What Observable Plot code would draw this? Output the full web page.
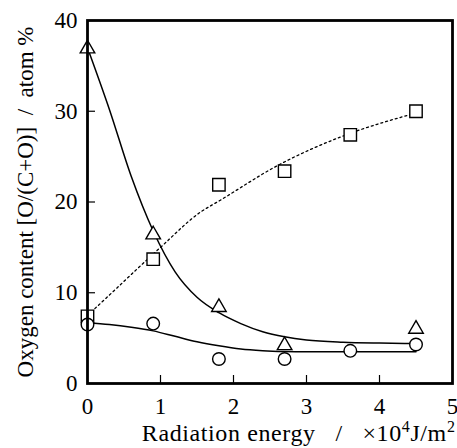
<!DOCTYPE html>
<html><head><meta charset="utf-8">
<script src="https://cdn.jsdelivr.net/npm/d3@7"></script>
<script src="https://cdn.jsdelivr.net/npm/@observablehq/plot@0.6"></script>
<style>
body{margin:0;background:#fff}
svg, svg text { font-family: "Liberation Serif", "DejaVu Serif", serif !important; }
</style>
</head><body><div id="chart"></div>
<script>
// Measured points
const energy = [0, 0.9, 1.8, 2.7, 3.6, 4.5];
const triangleX = [0, 0.9, 1.8, 2.7, 4.5];
const triangleY = [36.9, 16.4, 8.4, 4.2, 6.0];
const squareY = [7.4, 13.7, 21.9, 23.4, 27.4, 30.0];
const circleY = [6.5, 6.6, 2.7, 2.7, 3.6, 4.3];
// Fitted curves
const triFitX = [0, 0.3, 0.6, 0.9, 1.2, 1.5, 1.8, 2.1, 2.4, 2.7, 3.0, 3.5, 4.0, 4.5];
const triFitY = [37, 30.2, 22.8, 16.8, 12.3, 9.5, 7.8, 6.6, 5.7, 5.15, 4.8, 4.55, 4.45, 4.4];
const sqFitX = [0, 0.36, 0.73, 1.0, 1.55, 1.82, 2.6, 3.51, 4.5];
const sqFitY = [7.5, 10.2, 13.0, 15.0, 18.9, 20.2, 24.0, 27.3, 29.8];
const ciFitX = [0, 0.3, 0.6, 0.9, 1.2, 1.5, 1.8, 2.1, 2.4, 2.7, 3.0, 3.6, 4.5];
const ciFitY = [6.7, 6.5, 6.2, 5.8, 5.2, 4.6, 4.15, 3.8, 3.62, 3.53, 3.5, 3.5, 3.5];
// Ticks and labels
const xTicks = [0, 1, 2, 3, 4, 5];
const yTicks = [0, 10, 20, 30, 40];
const xInnerTicks = [1, 2, 3, 4];
const yInnerTicks = [10, 20, 30];
const yLabel = "Oxygen content [O/(C+O)]  /  atom %";
const xLabel = "Radiation energy   /   ×10⁴J/m²";

const toRows = (xs, ys) => xs.map((x, i) => ({x, y: ys[i]}));
const tri = toRows(triangleX, triangleY);
const sq = toRows(energy, squareY);
const ci = toRows(energy, circleY);

const plot = Plot.plot({
  width: 457, height: 448,
  marginLeft: 87, marginRight: 5, marginTop: 20, marginBottom: 65,
  style: {fontFamily: "Liberation Serif, serif", fontSize: "23px", background: "white", color: "black"},
  x: {domain: [0, 5]},
  y: {domain: [0, 40]},
  marks: [
    Plot.axisX({ticks: xInnerTicks, tickSize: 8, dy: -8, tickFormat: () => "", label: null, strokeWidth: 1.2}),
    Plot.axisX({ticks: xTicks, tickSize: 0, tickPadding: 14, fontSize: 23, label: null, tickFormat: d => String(d)}),
    Plot.axisY({ticks: yInnerTicks, tickSize: 8, dx: 8, tickFormat: () => "", label: null, strokeWidth: 1.2}),
    Plot.axisY({ticks: yTicks, tickSize: 0, tickPadding: 10, fontSize: 23, label: null, tickFormat: d => String(d)}),
    Plot.line(toRows(sqFitX, sqFitY), {x: "x", y: "y", curve: "monotone-x", stroke: "black", strokeWidth: 1.3, strokeDasharray: "2,3"}),
    Plot.line(toRows(triFitX, triFitY), {x: "x", y: "y", curve: "monotone-x", stroke: "black", strokeWidth: 1.5}),
    Plot.line(toRows(ciFitX, ciFitY), {x: "x", y: "y", curve: "monotone-x", stroke: "black", strokeWidth: 1.5}),
    Plot.dot(tri, {x: "x", y: "y", symbol: "triangle", r: 5.4, fill: "white", stroke: "black", strokeWidth: 1.4}),
    Plot.dot(sq, {x: "x", y: "y", symbol: "square", r: 7, fill: "white", stroke: "black", strokeWidth: 1.4}),
    Plot.dot(ci, {x: "x", y: "y", symbol: "circle", r: 6.3, fill: "white", stroke: "black", strokeWidth: 1.4}),
    Plot.frame({stroke: "black", strokeWidth: 2.8}),
    Plot.text([yLabel], {text: d => d, frameAnchor: "left", rotate: -90, dx: -62, textAnchor: "middle", lineAnchor: "middle", fontSize: 23}),
    Plot.text([xLabel], {text: d => d, frameAnchor: "bottom-right", dx: 3, dy: 50, textAnchor: "end", lineAnchor: "middle", fontSize: 24})
  ]
});
document.getElementById("chart").appendChild(plot);
d3.select(plot).selectAll("text").each(function() {
  const t = this.textContent;
  if (t === yLabel || t === xLabel) {
    this.setAttribute("xml:space", "preserve");
    this.style.whiteSpace = "pre";
  }
  if (t === xLabel) {
    this.style.letterSpacing = "0.6px";
    this.innerHTML = 'Radiation energy   /   ×10<tspan dy="-9" font-size="16">4</tspan><tspan dy="9">J/m</tspan><tspan dy="-9" font-size="16">2</tspan>';
  }
});
</script>
</body></html>
